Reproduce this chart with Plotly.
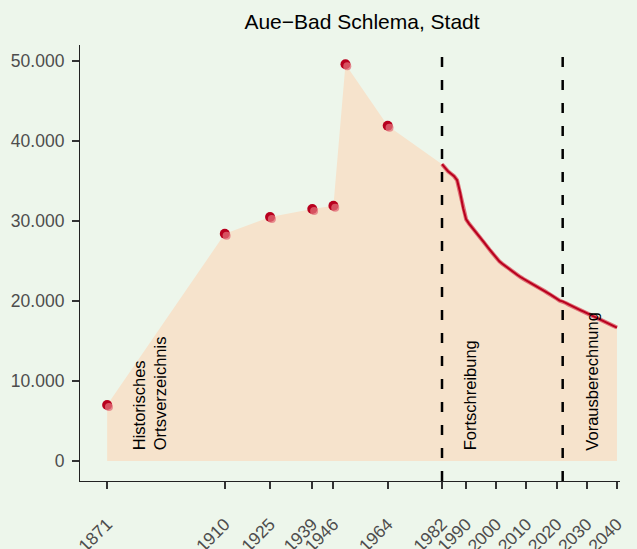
import plotly.graph_objects as go

# Historical census values (Historisches Ortsverzeichnis)
hist_years = [1871, 1910, 1925, 1939, 1946, 1950, 1964]
hist_pop = [7000, 28400, 30500, 31500, 31900, 49600, 41900]

# Fortschreibung / Vorausberechnung (annual)
proj_years = list(range(1982, 2041))
proj_pop = [37100, 36600, 36200, 35900, 35600, 35100, 33600, 31600, 30200,
            29650, 29200, 28750, 28300, 27800, 27300, 26800, 26300, 25800, 25300,
            24950, 24650, 24350, 24050, 23750, 23500, 23250, 23000, 22750, 22550,
            22350, 22100, 21900, 21700, 21450, 21250, 21000, 20800, 20550, 20300,
            20050, 19950, 19750, 19550, 19380, 19200, 19020, 18840, 18660, 18480,
            18300, 18120, 17940, 17760, 17580, 17400, 17220, 17040, 16860, 16680]

x_tickvals = [1871, 1910, 1925, 1939, 1946, 1964, 1982, 1990, 2000, 2010, 2020, 2030, 2040]
y_tickvals = [0, 10000, 20000, 30000, 40000, 50000]
y_ticktext = ["0", "10.000", "20.000", "30.000", "40.000", "50.000"]

section_lines = [1982, 2022]
section_labels = ["Historisches<br>Ortsverzeichnis", "Fortschreibung", "Vorausberechnung"]
section_label_x = [1884.9, 1991.3, 2031.7]

title = "Aue\u2212Bad Schlema, Stadt"

bg = "#EDF6EB"
fill = "#F6E3CC"
dark = "#B8001E"
light = "rgba(220,90,100,0.85)"
fam = "Liberation Sans, Arial, sans-serif"

fig = go.Figure()
fig.add_trace(go.Scatter(
    x=hist_years + proj_years, y=hist_pop + proj_pop,
    mode="lines", fill="tozeroy", fillcolor=fill,
    line=dict(width=0, color=fill), hoverinfo="skip", showlegend=False))

fig.add_trace(go.Scatter(x=proj_years, y=proj_pop, mode="lines",
                         line=dict(color=light, width=4), showlegend=False))
fig.add_trace(go.Scatter(x=proj_years, y=proj_pop, mode="lines",
                         line=dict(color=dark, width=2), showlegend=False))

fig.add_trace(go.Scatter(x=hist_years, y=hist_pop, mode="markers",
                         marker=dict(color=dark, size=10, line=dict(width=0)),
                         showlegend=False))
fig.add_trace(go.Scatter(x=[v + 0.6 for v in hist_years], y=[v - 250 for v in hist_pop],
                         mode="markers",
                         marker=dict(color="rgba(225,110,120,0.75)", size=8, line=dict(width=0)),
                         showlegend=False))

for xv in section_lines:
    fig.add_shape(type="line", x0=xv, x1=xv, xref="x", y0=0, y1=1, yref="paper",
                  line=dict(color="black", width=2.5, dash="10px,13px"))

for lab, xv in zip(section_labels, section_label_x):
    fig.add_annotation(x=xv, y=1100, xref="x", yref="y", text=lab, textangle=-90,
                       showarrow=False, xanchor="center", yanchor="bottom", align="left",
                       font=dict(family=fam, size=16.5, color="black"))

fig.update_layout(
    width=637, height=549,
    margin=dict(l=80, r=17, t=45, b=68, autoexpand=False),
    paper_bgcolor=bg, plot_bgcolor=bg,
    font=dict(family=fam),
    title=dict(text=title, x=362 / 637, xanchor="center", y=1 - 22 / 549,
               yanchor="middle", font=dict(size=21, color="black")),
)

fig.update_xaxes(range=[1862, 2041], tickvals=x_tickvals, tickangle=-45,
                 showgrid=False, zeroline=False, showline=True, linecolor="#222222", linewidth=1.2,
                 ticks="outside", ticklen=7, tickwidth=1.5, tickcolor="#333333",
                 tickfont=dict(size=17.5, color="#4D4D4D"), ticklabelstandoff=18, automargin=False)
fig.update_yaxes(range=[-2500, 52000], tickvals=y_tickvals, ticktext=y_ticktext,
                 showgrid=False, zeroline=False, showline=True, linecolor="#222222", linewidth=1.2,
                 ticks="outside", ticklen=7, tickwidth=1.5, tickcolor="#333333",
                 tickfont=dict(size=17.5, color="#4D4D4D"), ticklabelstandoff=4, automargin=False)

fig.write_html("out.html", config={"displayModeBar": False},
               post_script="document.body.style.margin='0';document.body.style.overflow='hidden';"
                           "document.body.style.background='" + bg + "';")
